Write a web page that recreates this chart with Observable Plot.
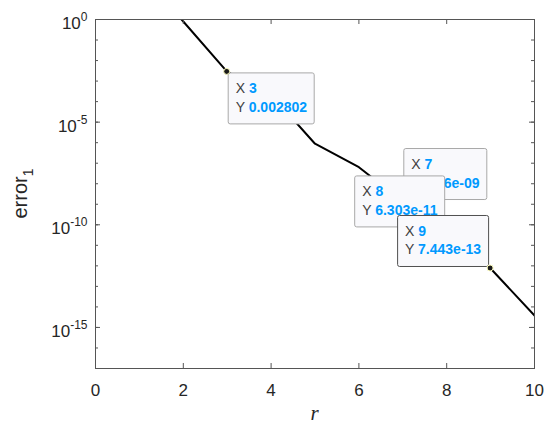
<!DOCTYPE html>
<html><head><meta charset="utf-8">
<script src="https://cdn.jsdelivr.net/npm/d3@7"></script>
<script src="https://cdn.jsdelivr.net/npm/@observablehq/plot@0.6"></script>
<style>body{margin:0;background:#fff}#chart{position:absolute;left:0;top:0}</style>
</head><body><div id="chart"></div>
<script>
// ---- data ----
const rValues = [1, 2, 3, 4, 5, 6, 7, 8, 9, 10];
const errorValues = [200, 0.8, 0.002802, 2.2e-4, 8.9e-7, 6.4e-8, 1.36e-9, 6.303e-11, 7.443e-13, 3.8e-15];
const xTicks = [0, 2, 4, 6, 8, 10];
const yMajorTicks = [1, 1e-5, 1e-10, 1e-15];
const yMinorTicks = d3.range(0, -18, -1).map(e => Math.pow(10, e));
const tipR = [3, 7, 8, 9];
const tipTexts = ["0.002802", "1.36e-09", "6.303e-11", "7.443e-13"];
const tipCorner = ["se", "ne", "nw", "nw"];
const tipSelected = [false, false, false, true];

const data = rValues.map((r, i) => ({r, err: errorValues[i]}));

const W = 550, H = 430, ML = 95, MR = 16, MT = 19, MB = 62;
const PW = W - ML - MR, PH = H - MT - MB;
const axisColor = "#555";

const chart = Plot.plot({
  width: W, height: H,
  marginLeft: ML, marginRight: MR, marginTop: MT, marginBottom: MB,
  style: {fontFamily: "'Liberation Sans', Arial, sans-serif", background: "#fff", color: "#262626", overflow: "visible"},
  x: {domain: [0, 10], label: null},
  y: {type: "log", domain: [1e-17, 1], label: null},
  marks: [
    Plot.line(data, {x: "r", y: "err", stroke: "#000", strokeWidth: 2, clip: true}),
    Plot.tickY(yMinorTicks, {y: d => d, stroke: axisColor, insetRight: PW - 3}),
    Plot.tickY(yMinorTicks, {y: d => d, stroke: axisColor, insetLeft: PW - 3}),
    Plot.tickY(yMajorTicks, {y: d => d, stroke: axisColor, insetRight: PW - 5}),
    Plot.tickY(yMajorTicks, {y: d => d, stroke: axisColor, insetLeft: PW - 5}),
    Plot.tickX(xTicks.slice(1, -1), {x: d => d, stroke: axisColor, insetTop: PH - 5}),
    Plot.tickX(xTicks.slice(1, -1), {x: d => d, stroke: axisColor, insetBottom: PH - 5}),
    Plot.frame({stroke: axisColor}),
    Plot.axisX({ticks: xTicks, tickSize: 0, tickPadding: 15, fontSize: 17, tickFormat: d => String(d), label: null}),
    Plot.axisY({ticks: yMajorTicks, tickSize: 0, tickPadding: 8, fontSize: 17,
      tickFormat: d => "10^" + Math.round(Math.log10(d)), label: null})
  ]
});
document.getElementById("chart").appendChild(chart);

const svg = d3.select(chart);
// superscripts on y tick labels
svg.selectAll("text").each(function() {
  const t = this.textContent;
  if (/^10\^/.test(t)) {
    const exp = t.split("^")[1];
    const el = d3.select(this);
    el.text(null);
    el.append("tspan").attr("dy", 4).text("10");
    el.append("tspan").attr("dy", -8).attr("font-size", 12).text(exp);
  }
});

// axis labels
const xs = chart.scale("x"), ys = chart.scale("y");
const yl = svg.append("text")
  .attr("transform", `translate(27,${MT + PH / 2}) rotate(-90)`)
  .attr("text-anchor", "middle")
  .attr("font-family", "'Liberation Sans', Arial, sans-serif")
  .attr("font-size", 20).attr("fill", "#262626");
yl.append("tspan").text("error");
yl.append("tspan").attr("dy", 6).attr("font-size", 14).text("1");

svg.append("text")
  .attr("x", ML + PW / 2).attr("y", 420)
  .attr("text-anchor", "middle")
  .attr("font-family", "'Liberation Serif', 'Times New Roman', serif")
  .attr("font-style", "italic").attr("font-size", 21).attr("fill", "#262626")
  .text("r");

// data tips
tipR.forEach((r, i) => {
  const v = errorValues[rValues.indexOf(r)];
  const px = xs.apply(r), py = ys.apply(v);
  const g = svg.append("g").attr("text-anchor", "start");
  const rect = g.append("rect");
  const t1 = g.append("text").attr("text-anchor", "start").attr("font-family", "'Liberation Sans', Arial, sans-serif").attr("font-size", 14);
  t1.append("tspan").attr("fill", "#404040").text("X ");
  t1.append("tspan").attr("fill", "#0099ff").attr("font-weight", "bold").text(String(r));
  const t2 = g.append("text").attr("text-anchor", "start").attr("font-family", "'Liberation Sans', Arial, sans-serif").attr("font-size", 14);
  t2.append("tspan").attr("fill", "#404040").text("Y ");
  t2.append("tspan").attr("fill", "#0099ff").attr("font-weight", "bold").text(tipTexts[i]);
  const tw = Math.max(t1.node().getComputedTextLength(), t2.node().getComputedTextLength());
  const bw = Math.round(tw + 15), bh = 51;
  const c = tipCorner[i];
  const bx = c === "se" || c === "ne" ? px + 1.5 : px - 1.5 - bw;
  const by = c === "se" ? py + 1.5 : py - 1.5 - bh;
  rect.attr("x", bx).attr("y", by).attr("width", bw).attr("height", bh)
    .attr("rx", 2).attr("fill", "#f9f9fc")
    .attr("stroke", tipSelected[i] ? "#505050" : "#a8a8a8").attr("stroke-width", 1);
  t1.attr("x", bx + 7.5).attr("y", by + 20.5);
  t2.attr("x", bx + 7.5).attr("y", by + 39);
  svg.append("circle").attr("cx", px).attr("cy", py).attr("r", 3)
    .attr("fill", "#1a1a1a").attr("stroke", "#ffffc0").attr("stroke-width", 1);
});
</script>
</body></html>
